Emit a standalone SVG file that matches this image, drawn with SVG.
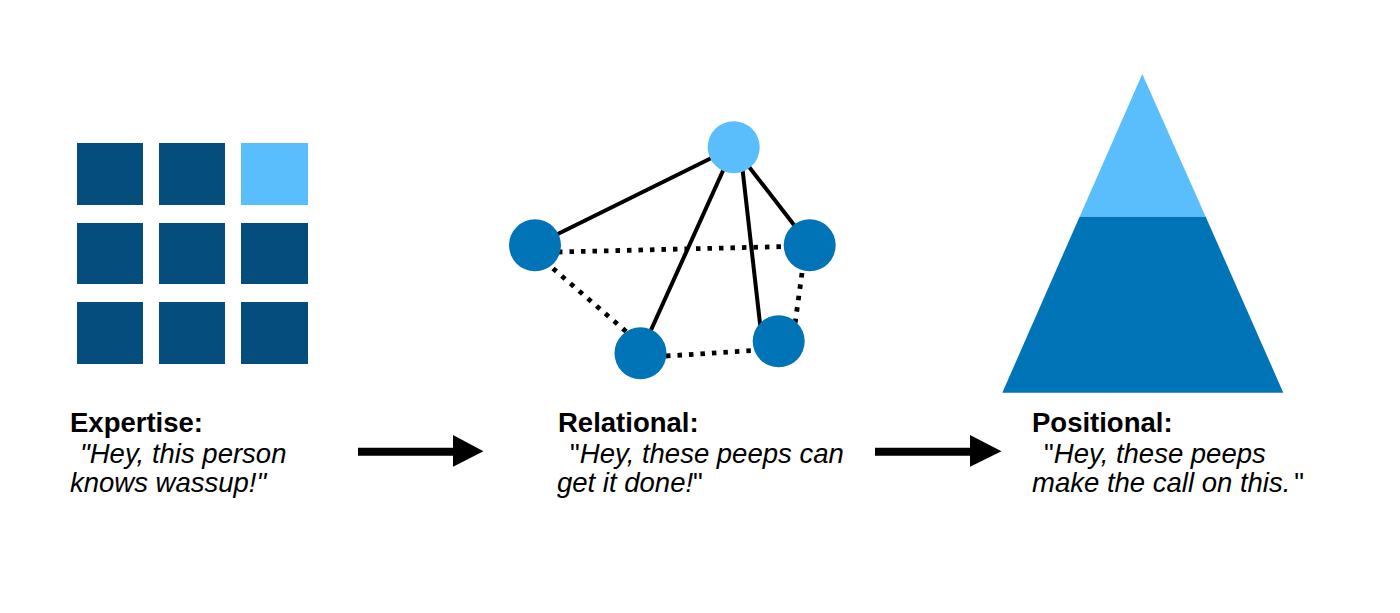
<svg xmlns="http://www.w3.org/2000/svg" width="1400" height="613" viewBox="0 0 1400 613">
<style>
.dark{fill:#044D7D}
.light{fill:#5ABEFC}
.mid{fill:#0174B7}
.solid{stroke:#000;stroke-width:4;fill:none}
.dot{stroke:#000;stroke-width:4.8;stroke-dasharray:4.5 7;fill:none}
.t{font-family:"Liberation Sans",Arial,Helvetica,sans-serif;font-size:27.5px;fill:#000}
.b{font-weight:bold}
.i{font-style:italic}
.n{font-style:normal}
</style>
<rect width="1400" height="613" fill="#fff"/>
<g id="grid">
<rect class="dark" x="77" y="143" width="66" height="62"/>
<rect class="dark" x="159" y="143" width="66" height="62"/>
<rect class="light" x="241" y="143" width="67" height="62"/>
<rect class="dark" x="77" y="223" width="66" height="61"/>
<rect class="dark" x="159" y="223" width="66" height="61"/>
<rect class="dark" x="241" y="223" width="67" height="61"/>
<rect class="dark" x="77" y="302" width="66" height="62"/>
<rect class="dark" x="159" y="302" width="66" height="62"/>
<rect class="dark" x="241" y="302" width="67" height="62"/>
</g>
<g id="connectors">
<line class="solid" x1="733.7" y1="147" x2="535" y2="245.3"/>
<line class="solid" x1="733.7" y1="147" x2="640.5" y2="353.3"/>
<line class="solid" x1="740" y1="147" x2="762" y2="341.3"/>
<line class="solid" x1="733.7" y1="147" x2="809.7" y2="245.3"/>
<line class="dot" x1="558" y1="252" x2="787" y2="246.5"/>
<line class="dot" x1="553" y1="268.5" x2="629" y2="334"/>
<line class="dot" x1="666" y1="356" x2="754" y2="350.5"/>
<line class="dot" x1="802" y1="273" x2="795" y2="324"/>
<path d="M358 451.7H455" stroke="#000" stroke-width="8"/>
<polygon points="453,435 483.5,451.3 453,466.7" fill="#000"/>
<path d="M875 451.7H972" stroke="#000" stroke-width="8"/>
<polygon points="970,435 1001.5,451.3 970,466.7" fill="#000"/>
</g>
<g id="network">
<circle id="n-top" class="light" cx="733.7" cy="147.2" r="26"/>
<circle id="n-left" class="mid" cx="535" cy="245.3" r="26"/>
<circle id="n-right" class="mid" cx="809.7" cy="245.3" r="26"/>
<circle id="n-bl" class="mid" cx="640.5" cy="353.3" r="26"/>
<circle id="n-br" class="mid" cx="778.7" cy="341.3" r="26"/>
</g>
<g id="pyramid">
<polygon class="light" points="1142.3,74 1205.7,216.7 1079.6,216.7"/>
<polygon class="mid" points="1079.6,216.7 1205.7,216.7 1283.3,392.7 1002.3,392.7"/>
</g>
<g id="label-expertise">
<text class="t b" x="70" y="431.7">Expertise:</text>
<text class="t i" x="80" y="463.3">"Hey, this person</text>
<text class="t i" x="70" y="491.7">knows wassup!"</text>
</g>
<g id="label-relational">
<text class="t b" x="558" y="431.7">Relational:</text>
<text class="t i" x="570" y="463.3"><tspan class="n">"</tspan>Hey, these peeps can</text>
<text class="t i" x="557" y="491.7">get it done!<tspan class="n">"</tspan></text>
</g>
<g id="label-positional">
<text class="t b" x="1032" y="431.7">Positional:</text>
<text class="t i" x="1044" y="463.3"><tspan class="n">"</tspan>Hey, these peeps</text>
<text class="t i" x="1032" y="491.7">make the call on this.<tspan class="n" dx="4">"</tspan></text>
</g>
</svg>
